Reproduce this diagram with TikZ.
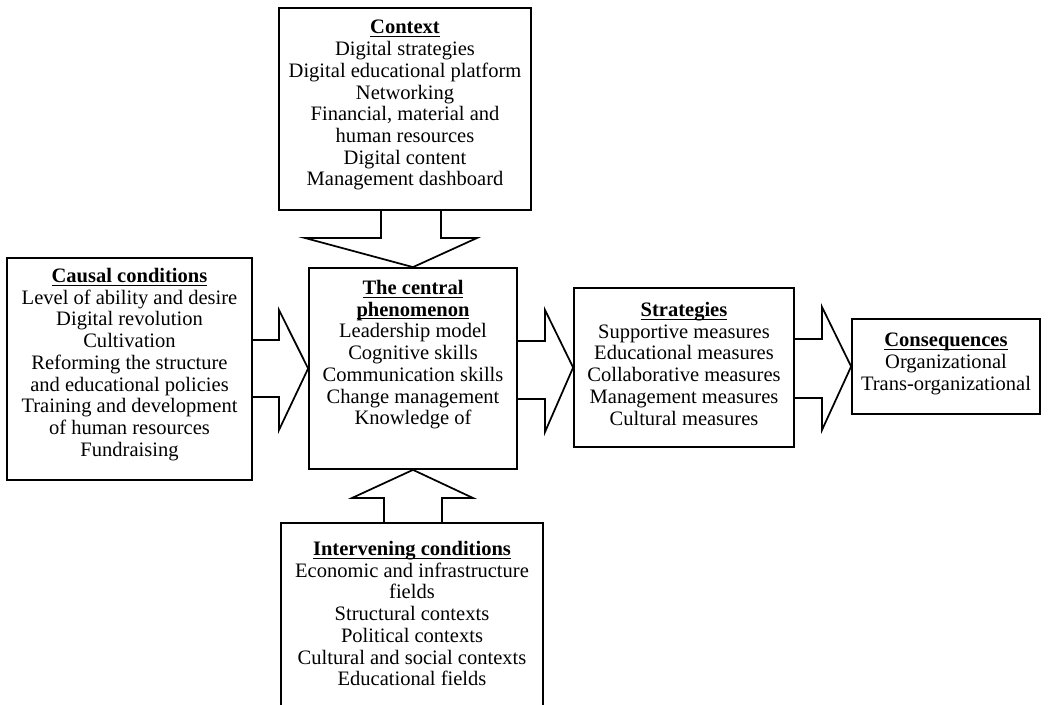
\documentclass[tikz,border=0pt]{standalone}
\usepackage{fontspec}
\setmainfont{Liberation Serif}
\usetikzlibrary{calc}
\tikzset{
  box/.style={draw, line width=1.3pt, inner sep=0pt},
  txt/.style={align=center, inner sep=0pt, anchor=north, font=\fontsize{15.4}{16.3}\selectfont},
  blk/.style={draw, line width=1.3pt, line join=miter}
}
\newcommand{\ttl}[1]{\textbf{\setbox0\hbox{#1}\rlap{\rule[-2.4pt]{\wd0}{0.75pt}}\box0}}
\begin{document}
\begin{tikzpicture}[x=0.75pt,y=-0.75pt]
\useasboundingbox (0,0) rectangle (1054,705);
\clip (0,0) rectangle (1054,705);
% boxes
\node[box, minimum width=252*0.75pt, minimum height=202*0.75pt] (ctx) at (405,109) {};
\node[box, minimum width=245*0.75pt, minimum height=222*0.75pt] (cause) at (129.5,369) {};
\node[box, minimum width=208*0.75pt, minimum height=201*0.75pt] (central) at (413,368.5) {};
\node[box, minimum width=220*0.75pt, minimum height=159*0.75pt] (strat) at (684,367.5) {};
\node[box, minimum width=188*0.75pt, minimum height=95*0.75pt] (cons) at (946,366.5) {};
\node[box, minimum width=262*0.75pt, minimum height=220*0.75pt] (interv) at (412,633) {};
% texts
\node[txt] (ctxt) at (405,20) {\ttl{Context}\\Digital strategies\\Digital educational platform\\Networking\\Financial, material and\\human resources\\Digital content\\Management dashboard};
\node[txt] (causet) at (129.5,268) {\ttl{Causal conditions}\\Level of ability and desire\\Digital revolution\\Cultivation\\Reforming the structure\\and educational policies\\Training and development\\of human resources\\Fundraising};
\node[txt] (centralt) at (413,280) {\ttl{The central}\\\ttl{phenomenon}\\Leadership model\\Cognitive skills\\Communication skills\\Change management\\Knowledge of};
\node[txt] (stratt) at (684,302) {\ttl{Strategies}\\Supportive measures\\Educational measures\\Collaborative measures\\Management measures\\Cultural measures};
\node[txt] (const) at (946,333) {\ttl{Consequences}\\Organizational\\Trans-organizational};
\node[txt] (intervt) at (412,541) {\ttl{Intervening conditions}\\Economic and infrastructure\\fields\\Structural contexts\\Political contexts\\Cultural and social contexts\\Educational fields};
% block arrows
\draw[blk] (381,210) -- (381,238) -- (305,238) -- (central.north) -- (477,238) -- (441,238) -- (441,210);
\draw[blk] (384,523) -- (384,498) -- (352,498) -- (central.south) -- (473,498) -- (442,498) -- (442,523);
\draw[blk] (252,340) -- (279,340) -- (279,310) -- (central.west) -- (279,430) -- (279,397) -- (252,397);
\draw[blk] (517,341) -- (545,341) -- (545,310) -- (strat.west) -- (545,432) -- (545,399) -- (517,399);
\draw[blk] (794,339) -- (822,339) -- (822,307) -- (cons.west) -- (822,430) -- (822,398) -- (794,398);
\end{tikzpicture}
\end{document}
